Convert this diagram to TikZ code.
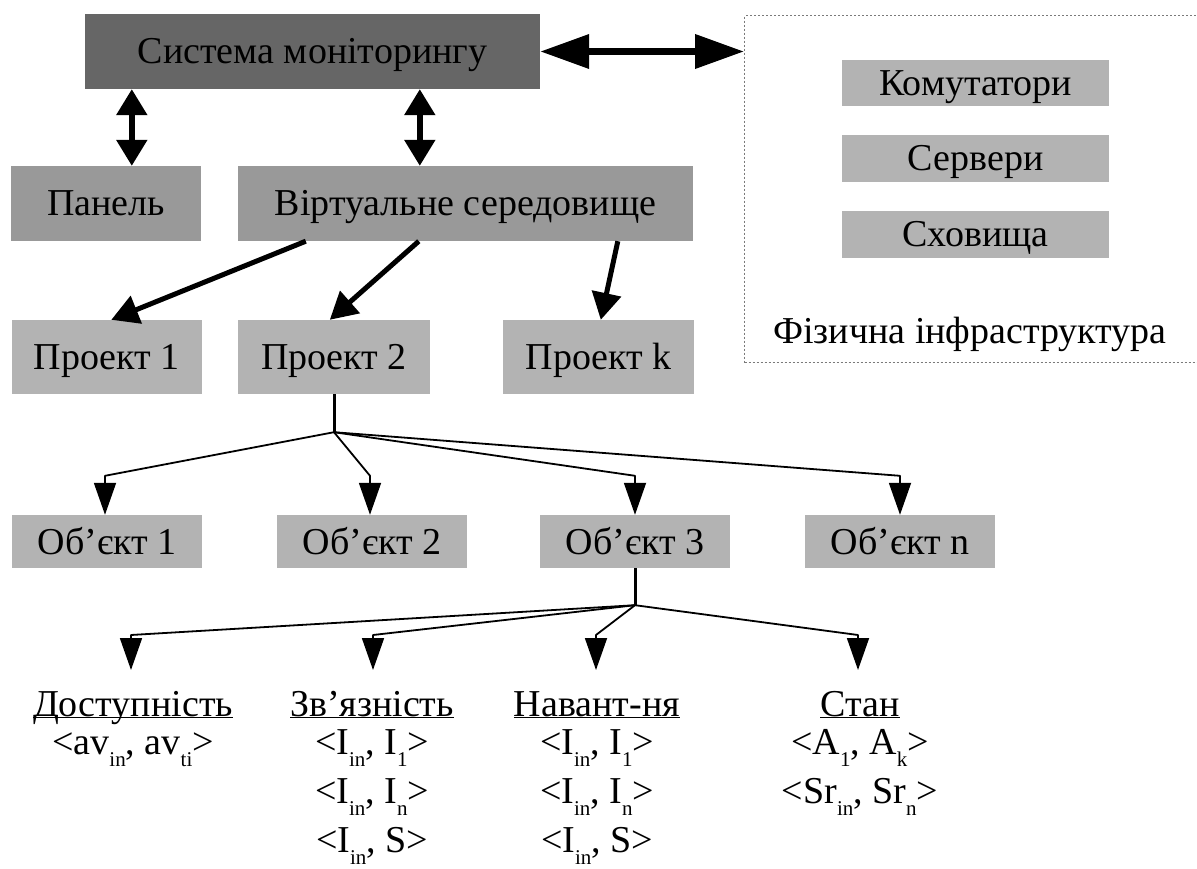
\documentclass[tikz,border=0pt]{standalone}
\usepackage{fontspec}
\setmainfont{Liberation Serif}
\usetikzlibrary{arrows.meta,calc}

\definecolor{boxdark}{HTML}{666666}
\definecolor{boxmid}{HTML}{999999}
\definecolor{boxlight}{HTML}{B3B3B3}
\definecolor{framegray}{HTML}{7A7A7A}

% lowered small index, as in <I_in, I_n>
\newcommand\lowsub[1]{\raisebox{-12pt}{\fontsize{21}{21}\selectfont #1}}

\begin{document}
\begin{tikzpicture}[x=1pt,y=-1pt,
  box/.style={rectangle, inner sep=0pt, text height=25pt, text depth=0pt,
    font=\fontsize{38}{46}\selectfont},
  darkbox/.style={box, fill=boxdark},
  midbox/.style={box, fill=boxmid},
  lightbox/.style={box, fill=boxlight},
  txt/.style={inner sep=0pt, anchor=base, font=\fontsize{38}{46}\selectfont},
  frame/.style={draw=framegray, line width=1.3pt, dash pattern=on 2pt off 2pt},
  widearrow/.style={line width=7pt,
    arrows={Triangle[length=49pt,width=33pt]-Triangle[length=49pt,width=33pt]}},
  twoway/.style={line width=5.5pt,
    arrows={Triangle[length=26pt,width=30pt]-Triangle[length=26pt,width=30pt]}},
  oneway/.style={line width=5pt, arrows={-Triangle[length=27pt,width=29pt]}},
  stem/.style={line width=3pt},
  branch/.style={line width=1.8pt, line join=round,
    arrows={-Triangle[length=32pt,width=22pt]}}
]
\useasboundingbox (0,0) rectangle (1197,869);

% upper level
\node[darkbox, minimum width=455pt, minimum height=75pt] (sys) at (312.5,51.5) {Система моніторингу};
\node[midbox, minimum width=190pt, minimum height=75pt] (pan) at (106,203.5) {Панель};
\node[midbox, minimum width=455pt, minimum height=75pt] (virt) at (465.5,203.5) {Віртуальне середовище};

% physical infrastructure
\node[frame, rectangle, inner sep=0pt, minimum width=490pt, minimum height=347pt, anchor=north west] (infra) at (744,15) {};
\node[lightbox, minimum width=267pt, minimum height=46pt] (sw) at (975.5,83) {Комутатори};
\node[lightbox, minimum width=267pt, minimum height=47pt] (srv) at (975.5,158.5) {Сервери};
\node[lightbox, minimum width=267pt, minimum height=47pt] (stor) at (975.5,234.5) {Сховища};
\node[txt] (infl) at (970,343) {Фізична інфраструктура};

% projects
\node[lightbox, minimum width=190pt, minimum height=74pt] (p1) at (106.5,357) {Проект 1};
\node[lightbox, minimum width=192pt, minimum height=74pt] (p2) at (334,357) {Проект 2};
\node[lightbox, minimum width=191pt, minimum height=74pt] (pk) at (598.5,357) {Проект k};

% objects
\node[lightbox, minimum width=190pt, minimum height=53pt] (o1) at (107,541.5) {Об’єкт 1};
\node[lightbox, minimum width=190pt, minimum height=53pt] (o2) at (372,541.5) {Об’єкт 2};
\node[lightbox, minimum width=190pt, minimum height=53pt] (o3) at (635,541.5) {Об’єкт 3};
\node[lightbox, minimum width=190pt, minimum height=53pt] (on) at (900,541.5) {Об’єкт n};

% metrics
\node[txt] (h1) at (133,716) {\underbar{Доступність}};
\node[txt] (h2) at (372,716) {\underbar{Зв’язність}};
\node[txt] (h3) at (597,716) {\underbar{Навант-ня}};
\node[txt] (h4) at (860,716) {\underbar{Стан}};

\node[txt] (d1) at (133,754) {<av\lowsub{in}, av\lowsub{ti}>};
\node[txt] (c1) at (372,754) {<I\lowsub{in}, I\lowsub{1}>};
\node[txt] (c2) at (372,803) {<I\lowsub{in}, I\lowsub{n}>};
\node[txt] (c3) at (372,852) {<I\lowsub{in}, S>};
\node[txt] (l1) at (597,754) {<I\lowsub{in}, I\lowsub{1}>};
\node[txt] (l2) at (597,803) {<I\lowsub{in}, I\lowsub{n}>};
\node[txt] (l3) at (597,852) {<I\lowsub{in}, S>};
\node[txt] (s1) at (860,754) {<A\lowsub{1}, A\lowsub{k}>};
\node[txt] (s2) at (860,803) {<Sr\lowsub{in}, Sr\lowsub{n}>};

% thick connectors
\draw[widearrow] (sys.east) -- (sys.east -| infra.west);
\draw[twoway] ($(sys.south west)+(47,0)$) -- ($(pan.north west)+(121,0)$);
\draw[twoway] ($(sys.south west)+(335,0)$) -- ($(virt.north west)+(182,0)$);
\draw[oneway] ($(virt.south west)+(68,0)$) -- ($(p1.north west)+(100,0)$);
\draw[oneway] ($(virt.south west)+(181,0)$) -- ($(p2.north west)+(92,0)$);
\draw[oneway] ($(virt.south west)+(380,0)$) -- ($(pk.north west)+(98,0)$);

% project 2 -> objects
\coordinate (j1) at ($(p2.south)+(0,38)$);
\draw[stem] (p2.south) -- (j1);
\foreach \o/\dx in {o1/-2,o2/-2,o3/0,on/0}
  \draw[branch] (j1) -- ($(\o.north)+(\dx,-39)$) -- ($(\o.north)+(\dx,0)$);

% object 3 -> metrics
\coordinate (j2) at ($(o3.south)+(0,37)$);
\draw[stem] (o3.south) -- (j2);
\foreach \h/\dx in {h1/-2,h2/1,h3/-1,h4/-2}
  \draw[branch] (j2) -- ($(\h.base)+(\dx,-81)$) -- ($(\h.base)+(\dx,-46)$);
\end{tikzpicture}
\end{document}
